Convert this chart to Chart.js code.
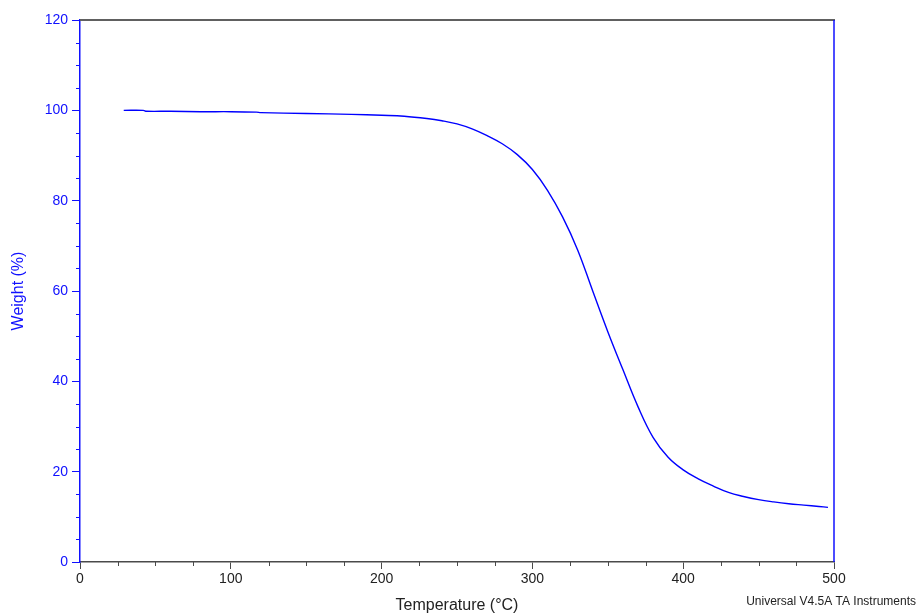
<!DOCTYPE html>
<html>
<head>
<meta charset="utf-8">
<script src="https://cdn.jsdelivr.net/npm/chart.js@4/dist/chart.umd.min.js"></script>
<style>
  html, body { margin: 0; padding: 0; background: #fff; }
  #wrap { width: 919px; height: 615px; position: relative; }
</style>
</head>
<body>
<div id="wrap"><canvas id="c" width="919" height="615"></canvas></div>
<script>
// Temperature (°C) and Weight (%)
const temperature = [29, 42, 44, 60, 80, 100, 117, 120, 150, 180, 200, 215, 230, 240, 250, 260, 270, 280, 290, 300,
  310, 320, 330, 340, 350, 360, 370, 380, 390, 400, 410, 420, 430, 440, 450, 460, 470, 480, 490, 496];
const weight = [100.0, 100.0, 99.8, 99.8, 99.7, 99.7, 99.6, 99.5, 99.3, 99.1, 98.9, 98.7, 98.2, 97.7, 97.0, 95.9, 94.4, 92.6, 90.2, 86.9,
  82.3, 76.4, 69.1, 60.0, 51.0, 42.6, 34.4, 27.6, 23.2, 20.4, 18.4, 16.8, 15.4, 14.5, 13.8, 13.3, 12.9, 12.6, 12.3, 12.1];
const xTicks = [0, 100, 200, 300, 400, 500];
const yTicks = [0, 20, 40, 60, 80, 100, 120];
const xTitle = 'Temperature (°C)';
const yTitle = 'Weight (%)';
const footer = 'Universal V4.5A TA Instruments';

const BLUE = '#1010ff';
const DARK = '#4a4a4a';
const FONT = "'Liberation Sans', Arial, sans-serif";

const points = temperature.map((t, i) => ({ x: t, y: weight[i] }));

const decor = {
  id: 'decor',
  afterDraw(chart) {
    const ctx = chart.ctx;
    const a = chart.chartArea;
    const xs = chart.scales.x, ys = chart.scales.y;
    ctx.save();
    ctx.strokeStyle = '#606060';
    ctx.lineWidth = 2;
    ctx.beginPath(); ctx.moveTo(a.left, a.top); ctx.lineTo(a.right + 1, a.top); ctx.stroke();
    ctx.strokeStyle = BLUE;
    ctx.lineWidth = 1.5;
    ctx.beginPath(); ctx.moveTo(a.right, a.top); ctx.lineTo(a.right, a.bottom); ctx.stroke();
    ctx.lineWidth = 1;
    ctx.strokeStyle = BLUE;
    for (let v = 0; v <= 120; v += 5) {
      if (v % 20 === 0) continue;
      const py = Math.round(ys.getPixelForValue(v)) + 0.5;
      ctx.beginPath(); ctx.moveTo(a.left - 4, py); ctx.lineTo(a.left, py); ctx.stroke();
    }
    ctx.strokeStyle = DARK;
    for (let v = 0; v <= 500; v += 25) {
      if (v % 100 === 0) continue;
      const px = Math.round(xs.getPixelForValue(v)) + 0.5;
      ctx.beginPath(); ctx.moveTo(px, a.bottom); ctx.lineTo(px, a.bottom + 4); ctx.stroke();
    }
    ctx.fillStyle = '#222';
    ctx.font = '12px ' + FONT;
    ctx.textAlign = 'right';
    ctx.textBaseline = 'middle';
    ctx.fillText(footer, 916, 602);
    ctx.restore();
  }
};

new Chart(document.getElementById('c'), {
  type: 'scatter',
  data: {
    datasets: [{
      data: points,
      showLine: true,
      borderColor: '#0000ff',
      borderWidth: 1.4,
      pointRadius: 0,
      tension: 0.4,
      fill: false
    }]
  },
  options: {
    responsive: false,
    animation: false,
    layout: { padding: { left: 0, top: 20, right: 85, bottom: 0 } },
    plugins: { legend: { display: false }, tooltip: { enabled: false } },
    scales: {
      x: {
        type: 'linear',
        min: 0, max: 500,
        afterBuildTicks(scale) { scale.ticks = xTicks.map(v => ({ value: v })); },
        afterFit(scale) { scale.height = 53; },
        border: { color: DARK, width: 1.5 },
        grid: { display: true, drawOnChartArea: false, tickLength: 7, tickColor: DARK, tickWidth: 1 },
        ticks: { color: '#222', font: { family: FONT, size: 14 }, padding: 2, maxRotation: 0 },
        title: { display: true, text: xTitle, color: '#222', font: { family: FONT, size: 16 }, padding: { top: 0, bottom: 0 } }
      },
      y: {
        type: 'linear',
        min: 0, max: 120,
        afterBuildTicks(scale) { scale.ticks = yTicks.map(v => ({ value: v })); },
        afterFit(scale) { scale.width = 80; },
        border: { color: BLUE, width: 1.5 },
        grid: { display: true, drawOnChartArea: false, tickLength: 8, tickColor: BLUE, tickWidth: 1 },
        ticks: { color: BLUE, font: { family: FONT, size: 14 }, padding: 4 },
        title: { display: true, text: yTitle, color: BLUE, font: { family: FONT, size: 16 }, padding: { top: 9, bottom: 0 } }
      }
    }
  },
  plugins: [decor]
});
</script>
</body>
</html>
